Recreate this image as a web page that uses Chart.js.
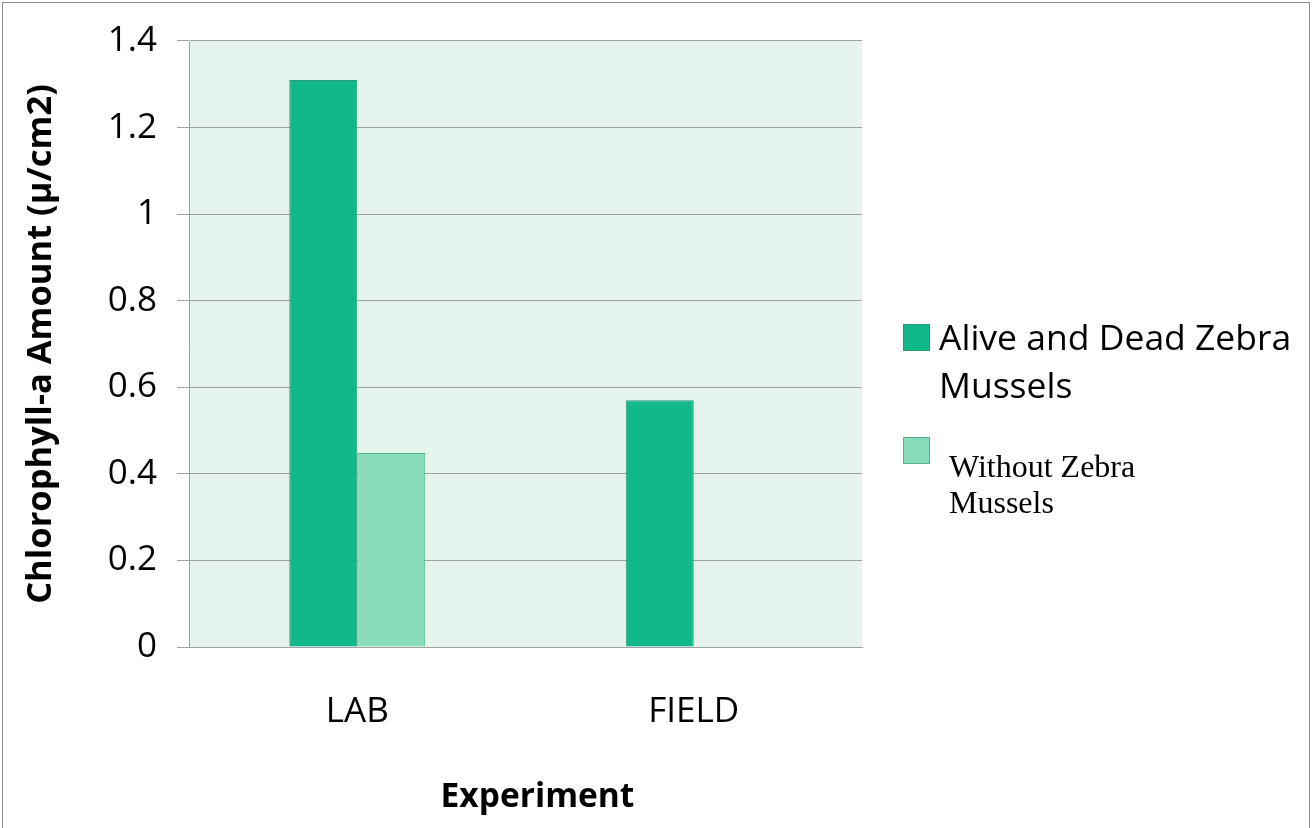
<!DOCTYPE html>
<html>
<head>
<meta charset="utf-8">
<script src="https://cdn.jsdelivr.net/npm/chart.js@4.4.1/dist/chart.umd.min.js"></script>
<style>
  html, body { margin: 0; padding: 0; background: #fff; }
  #wrap { position: relative; width: 1314px; height: 828px; overflow: hidden; }
  #frame { position: absolute; left: 2px; top: 2px; width: 1308px; height: 840px; border: 1px solid #8c8c8c; box-sizing: border-box; }
  canvas { position: absolute; left: 0; top: 0; }
  .lg { position: absolute; color: #000; white-space: nowrap; }
  .sw { position: absolute; width: 27px; height: 27px; box-sizing: border-box; }
</style>
</head>
<body>
<div id="wrap">
  <div id="frame"></div>
  <canvas id="c" width="1314" height="828"></canvas>
  <div class="sw" id="sw1" style="left:903px; top:324px; background:#10B88A; border:1px solid #2A9B6E;"></div>
  <div class="lg" id="lg1" style="left:939px; top:312px; font-family:'Open Sans',sans-serif; font-size:35.5px; line-height:48px;"></div>
  <div class="sw" id="sw2" style="left:903px; top:437px; background:#88DCBB; border:1px solid #4DB585;"></div>
  <div class="lg" id="lg2" style="left:949px; top:448px; font-family:'Liberation Serif',serif; font-size:32px; line-height:36px;"></div>
</div>
<script>
const categories = ['LAB', 'FIELD'];
const seriesNames = ['Alive and Dead Zebra Mussels', 'Without Zebra Mussels'];
const aliveAndDead = [1.31, 0.57];
const withoutMussels = [0.448, 0];
const yTickLabels = ['0', '0.2', '0.4', '0.6', '0.8', '1', '1.2', '1.4'];
const yTitle = 'Chlorophyll-a Amount (\u00B5/cm2)';
const xTitle = 'Experiment';

document.getElementById('lg1').innerHTML = 'Alive and Dead Zebra<br>Mussels';
document.getElementById('lg2').innerHTML = 'Without Zebra<br>Mussels';

const plotBg = {
  id: 'plotBg',
  beforeDraw(chart) {
    const a = chart.chartArea, ctx = chart.ctx;
    ctx.save();
    ctx.fillStyle = '#E5F5EE';
    ctx.fillRect(a.left, a.top, a.right - a.left, a.bottom - a.top);
    ctx.restore();
  }
};

const xTitlePlugin = {
  id: 'xTitlePlugin',
  afterDraw(chart) {
    const a = chart.chartArea, ctx = chart.ctx;
    ctx.save();
    ctx.fillStyle = '#000';
    ctx.font = "bold 33.5px 'Open Sans', sans-serif";
    ctx.textAlign = 'center';
    ctx.textBaseline = 'middle';
    ctx.fillText(xTitle, (a.left + a.right) / 2 + 12, chart.height - 31);
    ctx.restore();
  }
};

new Chart(document.getElementById('c'), {
  type: 'bar',
  data: {
    labels: categories,
    datasets: [
      { label: seriesNames[0], data: aliveAndDead, backgroundColor: '#10B88A', borderColor: '#2A9B6E', borderWidth: 1, categoryPercentage: 0.404, barPercentage: 1 },
      { label: seriesNames[1], data: withoutMussels, backgroundColor: '#88DCBB', borderColor: '#4DB585', borderWidth: 1, categoryPercentage: 0.404, barPercentage: 1 }
    ]
  },
  options: {
    responsive: false,
    animation: false,
    layout: { padding: { top: 41, right: 452, left: 0, bottom: 0 } },
    plugins: { legend: { display: false }, tooltip: { enabled: false } },
    scales: {
      x: {
        afterFit(s) { s.height = 181; },
        grid: { display: false, drawTicks: false },
        border: { display: true, color: '#a0a0a0', width: 1 },
        ticks: { padding: 44, color: '#000', font: { family: "'Open Sans', sans-serif", size: 35 } },
        title: { display: false }
      },
      y: {
        min: 0, max: 1.4,
        afterFit(s) { s.width = 189; },
        afterBuildTicks(s) { s.ticks = yTickLabels.map((t, i) => ({ value: i * 0.2 })); },
        grid: { color: '#a0a0a0', lineWidth: 1, tickLength: 12, drawTicks: true },
        border: { display: true, color: '#a0a0a0', width: 1 },
        ticks: { padding: 20, color: '#000', callback: (v, i) => yTickLabels[i], font: { family: "'Open Sans', sans-serif", size: 35 } },
        title: { display: true, text: yTitle, color: '#000', padding: { top: 20, bottom: 0 }, font: { family: "'Open Sans', sans-serif", size: 34.5, weight: 'bold' } }
      }
    }
  },
  plugins: [plotBg, xTitlePlugin]
});
</script>
</body>
</html>
